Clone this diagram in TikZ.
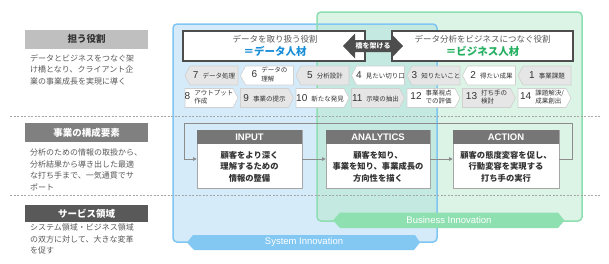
\documentclass[tikz,border=0pt]{standalone}
\usepackage{fontspec}
\setmainfont{Noto Sans CJK JP}
\newfontfamily\latf{Liberation Sans}
\usetikzlibrary{arrows.meta}
\definecolor{bfill}{HTML}{D6EBFA}
\definecolor{bline}{HTML}{7FC6F2}
\definecolor{gfill}{HTML}{DBF4E6}
\definecolor{gline}{HTML}{8EDEB1}
\definecolor{ofill}{HTML}{C3E9E1}
\definecolor{bband}{HTML}{83C8F3}
\definecolor{gband}{HTML}{8EE0B1}
\definecolor{txtc}{HTML}{333333}
\definecolor{descc}{HTML}{595959}
\definecolor{chgray}{HTML}{E6E6E6}
\definecolor{chline}{HTML}{D0D0D0}
\definecolor{hdrc}{HTML}{767676}
\definecolor{bluet}{HTML}{1A8FD8}
\definecolor{greent}{HTML}{25B062}
\definecolor{darkc}{HTML}{4D4D4D}
\definecolor{dashc}{HTML}{A6A6A6}
\definecolor{flowc}{HTML}{8C8C8C}
\newcommand\myfs[2]{\fontsize{#1}{#2}\selectfont}
\newcommand\chc[2]{{\latf\myfs{10}{10}#1}\hspace{4pt}{\myfs{6.5}{7.5}#2}}
\newcommand\chcc[3]{{\latf\myfs{10}{10}#1}\hspace{4pt}{\myfs{6.5}{8.5}\begin{tabular}{@{}l@{}}#2\\#3\end{tabular}}}
\tikzset{
  chevst/.style={draw=chline, line width=0.6pt},
  chevtxt/.style={inner sep=0pt, text=txtc},
  lhdr/.style={minimum width=123pt, minimum height=19pt, inner sep=0pt, font=\bfseries\myfs{9.5}{11}},
  ldesc/.style={anchor=north west, inner sep=0pt, align=left, text=descc, font=\myfs{8}{11.5}},
  topbox/.style={draw=darkc, line width=1.4pt, fill=white, minimum height=30pt, inner sep=0pt},
  mbox/.style={draw=dashc, line width=0.6pt, fill=white, minimum height=58pt, inner sep=0pt},
  mhdr/.style={fill=hdrc, minimum height=14pt, inner sep=0pt, text=white, font=\latf\bfseries\myfs{9.5}{11}},
  mtxt/.style={align=center, inner sep=0pt, text=txtc, font=\bfseries\myfs{8.3}{11.5}},
  flow/.style={draw=flowc, line width=0.7pt, -{Triangle[length=3.5pt,width=3.5pt]}},
  dashl/.style={draw=dashc, line width=0.6pt, dash pattern=on 2pt off 1.5pt},
  bandtxt/.style={inner sep=0pt, text=white, font=\latf\myfs{9.5}{11}}
}
\newcommand\chevL[5]{%
  \filldraw[chevst,fill=#4] (#2,#3+9.5) -- (#2+5,#3) -- (#2+53,#3) -- (#2+53,#3+19) -- (#2+5,#3+19) -- cycle;
  \node[chevtxt] (#1) at (#2+29,#3+9.5) {#5};}
\newcommand\chevR[5]{%
  \filldraw[chevst,fill=#4] (#2,#3) -- (#2+48,#3) -- (#2+53,#3+9.5) -- (#2+48,#3+19) -- (#2,#3+19) -- cycle;
  \node[chevtxt] (#1) at (#2+24,#3+9.5) {#5};}
\begin{document}
\begin{tikzpicture}[x=1pt,y=-1pt]
\useasboundingbox[fill=white] (0,0) rectangle (609,263);
% big areas
\fill[bfill, rounded corners=4pt] (173,24) rectangle (437,242);
\fill[gfill, rounded corners=4pt] (317,12) rectangle (582,221);
\begin{scope}
  \clip[rounded corners=4pt] (173,24) rectangle (437,242);
  \fill[ofill, rounded corners=4pt] (317,12) rectangle (582,221);
\end{scope}
\draw[bline, line width=1.5pt, rounded corners=4pt] (173,24) rectangle (437,242);
\draw[gline, line width=1.5pt, rounded corners=4pt] (317,12) rectangle (582,221);
% bands
\fill[bband] (193,235) -- (415,235) -- (420,242.5) -- (414,250) -- (194,250) -- (187,242.5) -- cycle;
\node[bandtxt] (sysl) at (304,242.5) {System Innovation};
\fill[gband] (340,212.5) -- (558,212.5) -- (564.5,220.5) -- (558,228) -- (340,228) -- (333,220.5) -- cycle;
\node[bandtxt] (busl) at (449,220.5) {Business Innovation};
% dashed separators
\draw[dashl] (10,116) -- (600,116);
\draw[dashl] (10,195) -- (600,195);
% left column
\node[lhdr, fill=black!25, text=txtc] (h1) at (86.5,39) {担う役割};
\node[ldesc] (d1) at (30,54) {データとビジネスをつなぐ架\\け橋となり、クライアント企\\業の事業成長を実現に導く};
\node[lhdr, fill=black!50, text=white] (h2) at (86.5,132.5) {事業の構成要素};
\node[ldesc] (d2) at (30,149) {分析のための情報の取扱から、\\分析結果から導き出した最適\\な打ち手まで、一気通貫でサ\\ポート};
\node[lhdr, fill=black!65, text=white, minimum height=17pt] (h3) at (86.5,213.5) {サービス領域};
\node[ldesc] (d3) at (30,224) {システム領域・ビジネス領域\\の双方に対して、大きな変革\\を促す};
% top role boxes
\node[topbox, minimum width=182pt] (lbox) at (274,46) {};
\node[inner sep=0pt, text=descc, font=\myfs{8.5}{10}] (lt1) at (275,39) {データを取り扱う役割};
\node[inner sep=0pt, text=bluet, font=\bfseries\myfs{10.5}{12}] (lt2) at (275,51) {＝データ人材};
\node[topbox, minimum width=181pt] (rbox) at (482.5,46) {};
\node[inner sep=0pt, text=descc, font=\myfs{8.5}{10}] (rt1) at (482.5,39) {データ分析をビジネスにつなぐ役割};
\node[inner sep=0pt, text=greent, font=\bfseries\myfs{10.5}{12}] (rt2) at (482.5,51) {＝ビジネス人材};
% bridge arrow
\fill[darkc] (343,46) -- (355,33.5) -- (355,40) -- (391,40) -- (391,33.5) -- (403,46) -- (391,58.5) -- (391,52) -- (355,52) -- (355,58.5) -- cycle;
\node[inner sep=0pt, text=white, font=\bfseries\myfs{7}{8}] (bridge) at (373,46) {橋を架ける};
% chevron row 1
\chevL{c7}{185}{66}{chgray}{\chc{7}{データ処理}}
\chevL{c6}{240.5}{66}{white}{\chcc{6}{データの}{理解}}
\chevL{c5}{296}{66}{chgray}{\chc{5}{分析設計}}
\chevL{c4}{351.5}{66}{white}{\chc{4}{見たい切り口}}
\chevL{c3}{407}{66}{chgray}{\chc{3}{知りたいこと}}
\chevL{c2}{462.5}{66}{white}{\chc{2}{得たい成果}}
\chevL{c1}{518}{66}{chgray}{\chc{1}{事業課題}}
% chevron row 2
\chevR{c8}{185}{88.5}{white}{\chcc{8}{アウトプット}{作成}}
\chevR{c9}{240.5}{88.5}{chgray}{\chc{9}{事業の提示}}
\chevR{c10}{296}{88.5}{white}{\chc{10}{新たな発見}}
\chevR{c11}{351.5}{88.5}{chgray}{\chc{11}{示唆の抽出}}
\chevR{c12}{407}{88.5}{white}{\chcc{12}{事業視点}{での評価}}
\chevR{c13}{462.5}{88.5}{chgray}{\chcc{13}{打ち手の}{検討}}
\chevR{c14}{518}{88.5}{white}{\chcc{14}{課題解決/}{成果創出}}
% main process boxes
\node[mbox, minimum width=105pt] (inp) at (249.5,159) {};
\node[mhdr, minimum width=105pt] (inph) at (249.5,137) {INPUT};
\node[mtxt] (inpt) at (249.5,166.5) {顧客をより深く\\理解するための\\情報の整備};
\node[mbox, minimum width=104pt] (ana) at (378,159) {};
\node[mhdr, minimum width=104pt] (anah) at (378,137) {ANALYTICS};
\node[mtxt] (anat) at (378,166.5) {顧客を知り、\\事業を知り、事業成長の\\方向性を描く};
\node[mbox, minimum width=106pt] (act) at (506,159) {};
\node[mhdr, minimum width=106pt] (acth) at (506,137) {ACTION};
\node[mtxt] (actt) at (506,166.5) {顧客の態度変容を促し、\\行動変容を実現する\\打ち手の実行};
% connectors
\coordinate (lr) at (572,123);
\coordinate (ll) at (184,123);
\draw[flow] (inp.east) -- (ana.west);
\draw[flow] (ana.east) -- (act.west);
\draw[flow] (act.east) -| (lr) -- (ll) |- (inp.west);
\end{tikzpicture}
\end{document}
